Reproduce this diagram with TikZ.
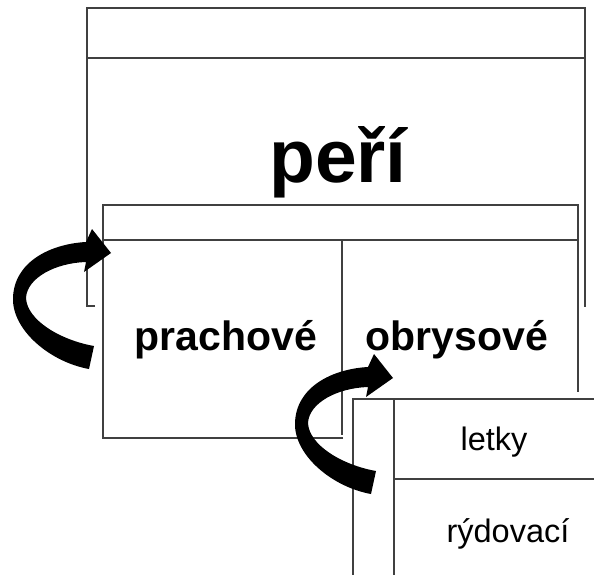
\documentclass[tikz,border=0pt]{standalone}
\usepackage{fontspec}
\setmainfont{Liberation Sans}
\usetikzlibrary{positioning}
\tikzset{every picture/.style={line width=1.3pt},
  frame/.style={draw=black!75, line width=1.3pt},
  big/.style={font=\fontsize{75}{80}\selectfont\bfseries, inner sep=0pt, anchor=base},
  mid/.style={font=\fontsize{41}{46}\selectfont\bfseries, inner sep=0pt, anchor=base},
  small/.style={font=\fontsize{32.5}{36}\selectfont, inner sep=0pt, anchor=base},
  curl/.pic={
    \fill[black] (89,369) .. controls (50,362) and (12,330) .. (13,298)
      .. controls (14,262) and (50,244) .. (86,242)
      -- (92,229) -- (111,253) -- (84,272) -- (86,262)
      .. controls (55,263) and (27,278) .. (26,298)
      .. controls (27,320) and (60,340) .. (94,346) -- cycle;
  }}

\begin{document}
\begin{tikzpicture}[x=1pt,y=-1pt]
        \useasboundingbox (0,0) rectangle (594,575);
        % outer box
        \draw[frame] (95,306) -- (87,306) -- (87,8) -- (585,8) -- (585,307);
        \draw[frame] (87,58) -- (585,58);
        \node[big] (peri) at (338,182) {peří};
        % middle box
        \fill[white] (103,205) rectangle (578,438);
        \draw[frame] (343,438) -- (103,438) -- (103,205) -- (578,205) -- (578,392);
        \draw[frame] (103,240) -- (578,240);
        \draw[frame] (342,240) -- (342,435);
        \node[mid] (prach) at (226,350) {prachové};
        \node[mid] (obrys) at (457,350) {obrysové};
        % small box
        \fill[white] (353,399) rectangle (594,575);
        \draw[frame] (353,575) -- (353,399) -- (594,399);
        \draw[frame] (394,399) -- (394,575);
        \draw[frame] (394,479) -- (594,479);
        \node[small] (letky) at (494,450) {letky};
        \node[small] (rydov) at (508,542) {rýdovací};
        % arrows
        \pic at (0,0) {curl};
        \pic at (282,125) {curl};
    \end{tikzpicture}
\end{document}
